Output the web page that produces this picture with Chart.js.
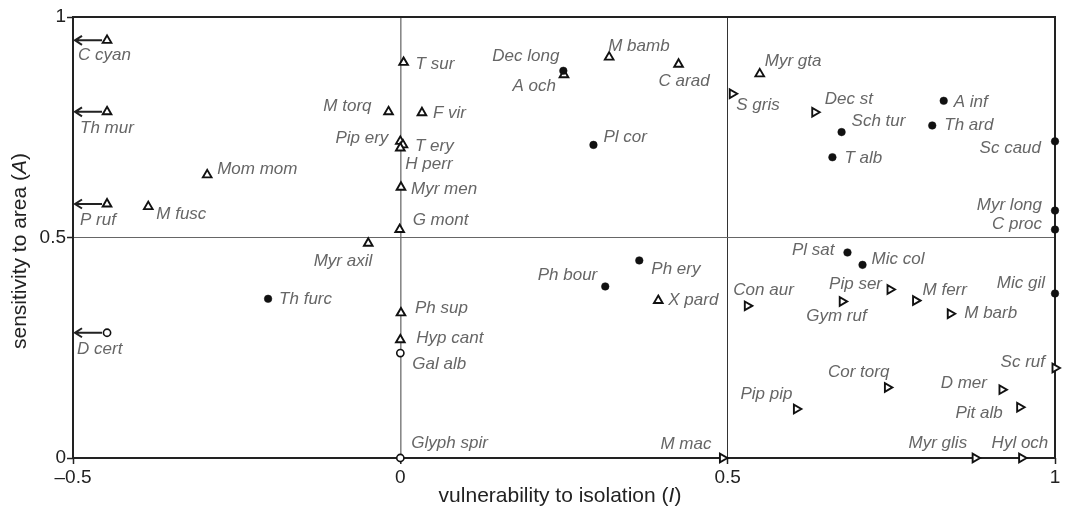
<!DOCTYPE html>
<html>
<head>
<meta charset="utf-8">
<script src="https://cdn.jsdelivr.net/npm/chart.js@4"></script>
<style>
  html, body { margin: 0; padding: 0; background: #fff; }
  #wrap { width: 1077px; height: 506px; }
</style>
</head>
<body>
<div id="wrap"><canvas id="c" width="1077" height="506"></canvas></div>
<script>
// ---- data ----
const names = ["C cyan","Th mur","P ruf","D cert","Mom mom","M fusc","Th furc","Myr axil","M torq","T sur",
  "F vir","Pip ery","T ery","H perr","Myr men","G mont","Ph sup","Hyp cant","Gal alb","Glyph spir",
  "Dec long","A och","M bamb","C arad","Pl cor","Ph bour","Ph ery","X pard","M mac","Myr gta",
  "S gris","Dec st","Sch tur","T alb","A inf","Th ard","Sc caud","Myr long","C proc","Pl sat",
  "Mic col","Mic gil","Con aur","Pip ser","Gym ruf","M ferr","M barb","Sc ruf","Cor torq","D mer",
  "Pit alb","Pip pip","Myr glis","Hyl och"];
const vulnI = [-0.448,-0.448,-0.448,-0.448,-0.295,-0.385,-0.202,-0.049,-0.018,0.005,
  0.033,0.000,0.004,0.000,0.001,-0.001,0.001,0.000,0.000,0.000,
  0.249,0.250,0.319,0.425,0.295,0.313,0.365,0.394,0.492,0.549,
  0.507,0.633,0.674,0.660,0.830,0.8125,1.000,1.000,1.000,0.683,
  0.706,1.000,0.530,0.748,0.675,0.787,0.840,1.000,0.744,0.919,
  0.946,0.605,0.878,0.949];
const sensA = [0.947,0.785,0.576,0.284,0.642,0.570,0.361,0.487,0.785,0.897,
  0.783,0.718,0.710,0.703,0.614,0.518,0.329,0.268,0.238,0.000,
  0.878,0.869,0.909,0.893,0.710,0.389,0.448,0.357,0.000,0.871,
  0.826,0.784,0.739,0.682,0.810,0.754,0.718,0.561,0.518,0.466,
  0.438,0.373,0.345,0.382,0.355,0.357,0.327,0.204,0.160,0.155,
  0.115,0.111,0.000,0.000];
// marker group: dot = filled circle, tri = open triangle, rtri = open right triangle, ring = open circle
const group = ["tri","tri","tri","ring","tri","tri","dot","tri","tri","tri",
  "tri","tri","tri","tri","tri","tri","tri","tri","ring","ring",
  "dot","tri","tri","tri","dot","dot","dot","tri","rtri","tri",
  "rtri","rtri","dot","dot","dot","dot","dot","dot","dot","dot",
  "dot","dot","rtri","rtri","rtri","rtri","rtri","rtri","rtri","rtri",
  "rtri","rtri","rtri","rtri"];
// values lying beyond the left edge of the axis (drawn with an arrow)
const beyondLeft = ["C cyan","Th mur","P ruf","D cert"];
const xTicks = [-0.5, 0, 0.5, 1];
const yTicks = [0, 0.5, 1];

// ---- label placement (pixels, layout only) ----
const labelDx = [-29,-27,-27,-30,10,8,11,4,-17,12,
  11,-12,12,5,10,13,14,16,12,11,
  -4,-8,-1,-20,10,-8,12,10,-11,5,
  4,10,10,12,10,12,-14,-13,-13,-13,
  9,-10,-14,-8,-36,7,14,-10,2,-15,
  -17,-4,-8,-30];
const labelDy = [15,16,16,17,-6,8,0,18,-6,2,
  1,-3,1,16,2,-9,-5,-2,11,-15,
  -15,11,-11,17,-8,-11,9,0,-14,-13,
  12,-13,-11,1,1,0,7,-5,-5,-2,
  -6,-10,-16,-5,15,-10,-1,-6,-15,-6,
  6,-15,-15,-15];
const labelAlign = ["left","left","left","left","left","left","left","right","right","left",
  "left","right","left","left","left","left","left","left","left","left",
  "right","right","left","left","left","right","left","left","right","left",
  "left","left","left","left","left","left","right","right","right","right",
  "left","right","left","right","left","left","left","right","right","right",
  "right","right","right","left"];

const FONT = '"Liberation Sans", Arial, Helvetica, sans-serif';

function pts(g) {
  const out = [];
  names.forEach((n, i) => { if (group[i] === g) out.push({x: vulnI[i], y: sensA[i], name: n}); });
  return out;
}

const datasets = [
  {label: 'dot', data: pts('dot'), pointStyle: 'circle', pointRadius: 3.8, pointBackgroundColor: '#111', pointBorderColor: '#111', pointBorderWidth: 0.5},
  {label: 'tri', data: pts('tri'), pointStyle: 'triangle', pointRadius: 5, pointBackgroundColor: '#fff', pointBorderColor: '#111', pointBorderWidth: 1.9},
  {label: 'rtri', data: pts('rtri'), pointStyle: 'triangle', pointRotation: 90, pointRadius: 5, pointBackgroundColor: '#fff', pointBorderColor: '#111', pointBorderWidth: 1.9},
  {label: 'ring', data: pts('ring'), pointStyle: 'circle', pointRadius: 3.6, pointBackgroundColor: '#fff', pointBorderColor: '#111', pointBorderWidth: 1.6}
].map(d => Object.assign(d, {clip: false, pointHoverRadius: d.pointRadius}));

const decor = {
  id: 'decor',
  beforeDatasetsDraw(chart) {
    const {ctx, chartArea: a} = chart;
    ctx.save();
    ctx.strokeStyle = '#222';
    ctx.lineWidth = 2;
    ctx.strokeRect(a.left, a.top, a.right - a.left, a.bottom - a.top);
    ctx.restore();
  },
  afterDatasetsDraw(chart) {
    const {ctx, chartArea: a} = chart;
    const xs = chart.scales.x, ys = chart.scales.y;
    ctx.save();
    // arrows for off-scale values
    ctx.strokeStyle = '#222';
    ctx.lineWidth = 2;
    beyondLeft.forEach(n => {
      const i = names.indexOf(n);
      const px = xs.getPixelForValue(vulnI[i]) - 5;
      const py = ys.getPixelForValue(sensA[i]);
      const x0 = xs.getPixelForValue(xs.min) + 2;
      ctx.beginPath();
      ctx.moveTo(px, py);
      ctx.lineTo(x0, py);
      ctx.moveTo(x0 + 7, py - 4.5);
      ctx.lineTo(x0, py);
      ctx.lineTo(x0 + 7, py + 4.5);
      ctx.stroke();
    });
    // point labels
    ctx.font = 'italic 17px ' + FONT;
    ctx.fillStyle = '#666';
    ctx.textBaseline = 'middle';
    names.forEach((n, i) => {
      const px = xs.getPixelForValue(vulnI[i]);
      const py = ys.getPixelForValue(sensA[i]);
      ctx.textAlign = labelAlign[i];
      ctx.fillText(n, px + labelDx[i], py + labelDy[i]);
    });
    ctx.restore();
  },
  afterDraw(chart) {
    const {ctx, chartArea: a} = chart;
    ctx.save();
    ctx.fillStyle = '#222';
    ctx.textBaseline = 'alphabetic';
    ctx.textAlign = 'left';
    // x title with italic I
    const fN = '21px ' + FONT, fI = 'italic 21px ' + FONT;
    const partsX = [["vulnerability to isolation (", fN], ["I", fI], [")", fN]];
    const partsY = [["sensitivity to area (", fN], ["A", fI], [")", fN]];
    const measure = parts => parts.reduce((s, p) => { ctx.font = p[1]; return s + ctx.measureText(p[0]).width; }, 0);
    let w = measure(partsX);
    let x = (a.left + a.right) / 2 - 4 - w / 2;
    partsX.forEach(p => { ctx.font = p[1]; ctx.fillText(p[0], x, 502); x += ctx.measureText(p[0]).width; });
    // y title rotated
    w = measure(partsY);
    ctx.translate(26, 251);
    ctx.rotate(-Math.PI / 2);
    x = -w / 2;
    partsY.forEach(p => { ctx.font = p[1]; ctx.fillText(p[0], x, 0); x += ctx.measureText(p[0]).width; });
    ctx.restore();
  }
};

new Chart(document.getElementById('c'), {
  type: 'scatter',
  data: {datasets},
  options: {
    responsive: false,
    animation: false,
    devicePixelRatio: 1,
    layout: {padding: {top: 17, right: 22, left: 0, bottom: 0}},
    plugins: {legend: {display: false}, tooltip: {enabled: false}},
    scales: {
      x: {
        type: 'linear', min: xTicks[0], max: xTicks[xTicks.length - 1],
        afterBuildTicks: s => { s.ticks = xTicks.map(v => ({value: v})); },
        afterFit: s => { s.height = 48; },
        border: {display: false},
        grid: {
          drawTicks: true, tickLength: 6, tickColor: '#222', tickWidth: 1.5,
          color: c => (c.tick && c.tick.value === 0) ? '#888' : (c.tick && c.tick.value === 0.5) ? '#333' : 'rgba(0,0,0,0)',
          lineWidth: c => (c.tick && c.tick.value === 0) ? 1.6 : 1
        },
        ticks: {
          color: '#222', font: {family: FONT, size: 19}, padding: 2, maxRotation: 0,
          callback: v => (v < 0 ? '\u2013' + Math.abs(v) : String(v))
        }
      },
      y: {
        type: 'linear', min: yTicks[0], max: yTicks[yTicks.length - 1],
        afterBuildTicks: s => { s.ticks = yTicks.map(v => ({value: v})); },
        afterFit: s => { s.width = 73; },
        border: {display: false},
        grid: {
          drawTicks: true, tickLength: 6, tickColor: '#222', tickWidth: 1.5,
          color: c => (c.tick && c.tick.value === 0.5) ? '#666' : 'rgba(0,0,0,0)',
          lineWidth: 1
        },
        ticks: {
          color: '#222', font: {family: FONT, size: 19}, padding: 1,
          callback: v => String(v)
        }
      }
    }
  },
  plugins: [decor]
});
</script>
</body>
</html>
